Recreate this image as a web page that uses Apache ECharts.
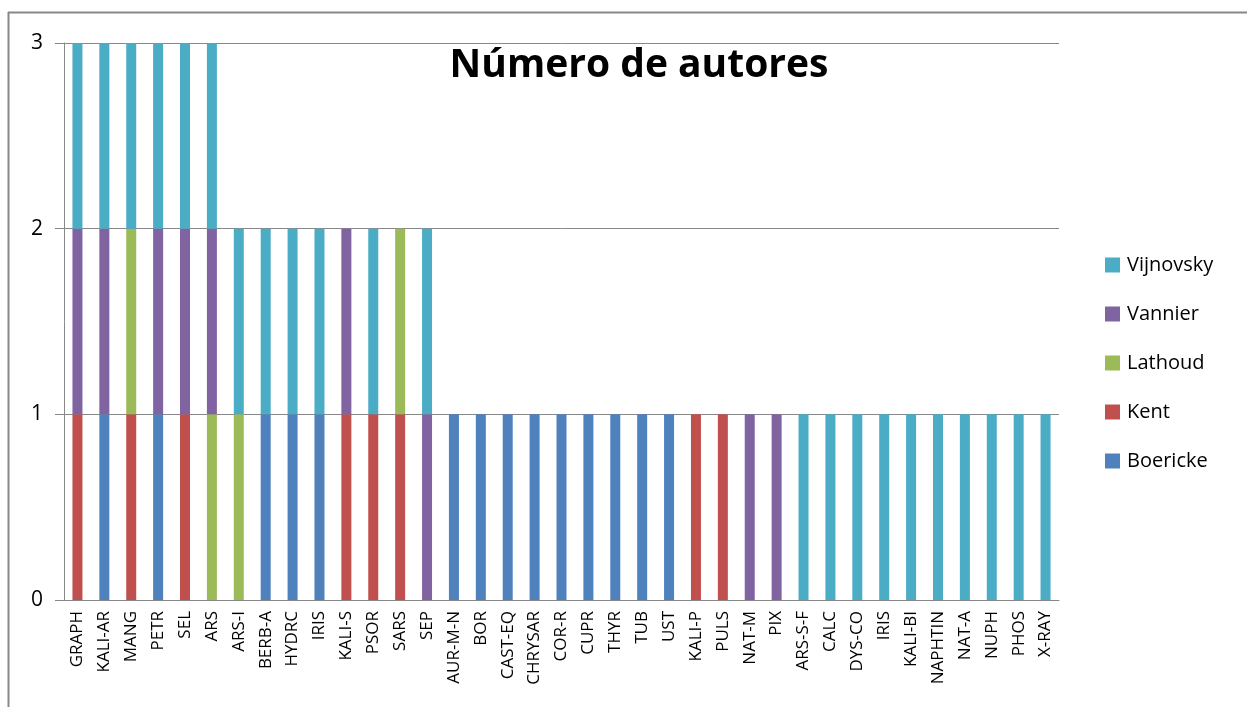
<!DOCTYPE html>
<html>
<head>
<meta charset="utf-8">
<script src="https://cdn.jsdelivr.net/npm/echarts@6/dist/echarts.min.js"></script>
<style>
  html, body { margin: 0; padding: 0; background: #fff; }
  #chart { width: 1247px; height: 707px; }
</style>
</head>
<body>
<div id="chart"></div>
<script>
// remedios (eje x)
const categorias = ['GRAPH','KALI-AR','MANG','PETR','SEL','ARS','ARS-I','BERB-A','HYDRC','IRIS',
  'KALI-S','PSOR','SARS','SEP','AUR-M-N','BOR','CAST-EQ','CHRYSAR','COR-R','CUPR',
  'THYR','TUB','UST','KALI-P','PULS','NAT-M','PIX','ARS-S-F','CALC','DYS-CO',
  'IRIS','KALI-BI','NAPHTIN','NAT-A','NUPH','PHOS','X-RAY']

const boericke  = [0,1,0,1,0,0,0,1,1,1, 0,0,0,0,1,1,1,1,1,1, 1,1,1,0,0,0,0,0,0,0, 0,0,0,0,0,0,0]
const kent      = [1,0,1,0,1,0,0,0,0,0, 1,1,1,0,0,0,0,0,0,0, 0,0,0,1,1,0,0,0,0,0, 0,0,0,0,0,0,0]
const lathoud   = [0,0,1,0,0,1,1,0,0,0, 0,0,1,0,0,0,0,0,0,0, 0,0,0,0,0,0,0,0,0,0, 0,0,0,0,0,0,0]
const vannier   = [1,1,0,1,1,1,0,0,0,0, 1,0,0,1,0,0,0,0,0,0, 0,0,0,0,0,1,1,0,0,0, 0,0,0,0,0,0,0]
const vijnovsky = [1,1,1,1,1,1,1,1,1,1, 0,1,0,1,0,0,0,0,0,0, 0,0,0,0,0,0,0,1,1,1, 1,1,1,1,1,1,1]

const yTicks = [0, 1, 2, 3]

const FONT = '"Open Sans", sans-serif'

function serie(name, data, color){
  return {
    name: name,
    type: 'bar',
    stack: 'autores',
    barWidth: 10,
    data: data,
    itemStyle: { color: color },
    emphasis: { disabled: true }
  }
}

const chart = echarts.init(document.getElementById('chart'))

chart.setOption({
  animation: false,
  title: {
    text: 'Número de autores',
    left: 634,
    textAlign: 'center',
    top: 41,
    textStyle: { fontFamily: FONT, fontWeight: 'bold', fontSize: 39, color: '#000' }
  },
  legend: {
    orient: 'vertical',
    left: 1100,
    top: 250,
    itemGap: 29,
    itemWidth: 15,
    itemHeight: 15,
    icon: 'rect',
    data: ['Vijnovsky','Vannier','Lathoud','Kent','Boericke'],
    textStyle: { fontFamily: FONT, fontSize: 20, color: '#000', padding: [0,0,0,2] }
  },
  grid: { left: 64, right: 188, top: 43, bottom: 107 },
  xAxis: {
    type: 'category',
    data: categorias,
    axisLine: { lineStyle: { color: '#888' } },
    axisTick: { length: 6, lineStyle: { color: '#888' } },
    axisLabel: {
      rotate: 90,
      interval: 0,
      margin: 11,
      fontFamily: FONT,
      fontSize: 17,
      color: '#000'
    }
  },
  yAxis: {
    type: 'value',
    min: yTicks[0],
    max: yTicks[yTicks.length - 1],
    interval: 1,
    axisLine: { show: true, lineStyle: { color: '#888' } },
    axisTick: { show: true, length: 9, lineStyle: { color: '#888' } },
    splitLine: { lineStyle: { color: '#888' } },
    axisLabel: { fontFamily: FONT, fontSize: 21, color: '#000', margin: 21 }
  },
  graphic: [
    { type: 'line', shape: { x1: 8.5, y1: 12, x2: 8.5, y2: 707 }, style: { stroke: '#888', lineWidth: 2 } },
    { type: 'line', shape: { x1: 8, y1: 12.5, x2: 1247, y2: 12.5 }, style: { stroke: '#888', lineWidth: 2 } }
  ],
  series: [
    serie('Boericke', boericke, '#4F81BD'),
    serie('Kent', kent, '#C0504D'),
    serie('Lathoud', lathoud, '#9BBB59'),
    serie('Vannier', vannier, '#8064A2'),
    serie('Vijnovsky', vijnovsky, '#4BACC6')
  ]
})
</script>
</body>
</html>
